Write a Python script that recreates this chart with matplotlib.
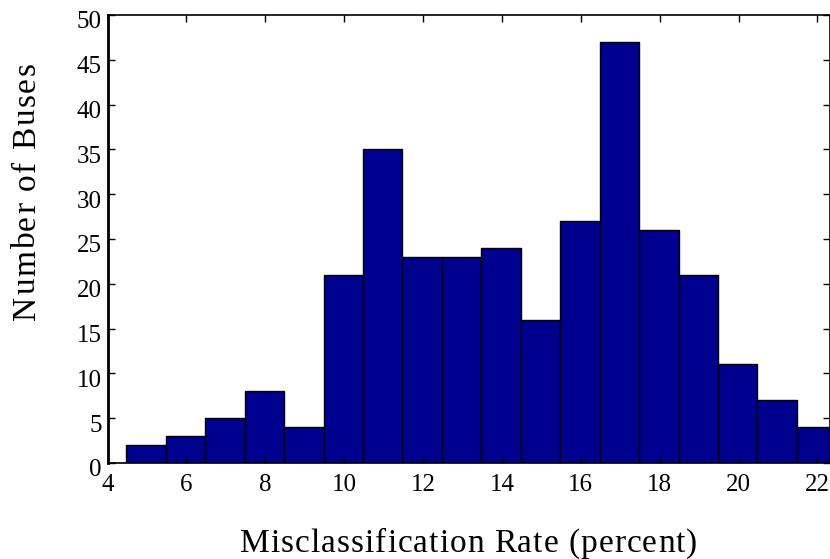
import numpy as np
import matplotlib
matplotlib.use('Agg')
import matplotlib.pyplot as plt
from matplotlib.transforms import ScaledTranslation
from matplotlib.font_manager import FontProperties

# Histogram counts (bin centres in percent)
bin_centers = [3.98, 4.98, 5.98, 6.98, 7.98, 8.98, 9.98, 10.98, 11.98, 12.98,
               13.98, 14.98, 15.98, 16.98, 17.98, 18.98, 19.98, 20.98, 21.98]
counts = [0, 2, 3, 5, 8, 4, 21, 35, 23, 23, 24, 16, 27, 47, 26, 21, 11, 7, 4]
xticks = [4, 6, 8, 10, 12, 14, 16, 18, 20, 22]
yticks = [0, 5, 10, 15, 20, 25, 30, 35, 40, 45, 50]

plt.rcParams['font.family'] = ['Liberation Serif', 'DejaVu Serif']

W, H = 830, 559
fig = plt.figure(figsize=(W/100, H/100), dpi=100)
ax = fig.add_axes([107.5/W, 96/H, (W - 107.5)/W, 448/H])

ax.bar(bin_centers, counts, width=1.0, color='#00008F', edgecolor='black',
       linewidth=1.0)

ax.set_xlim(4, 22.32)
ax.set_ylim(0, 50)
ax.set_xticks(xticks)
ax.set_yticks(yticks)
ax.tick_params(direction='in', length=5, width=1, labelsize=18,
               top=True, right=True, color='black')
ax.tick_params(axis='x', pad=8)
ax.tick_params(axis='y', pad=4)

for side in ['top', 'right', 'bottom']:
    ax.spines[side].set_linewidth(1.2)
ax.spines['left'].set_linewidth(2)

# MATLAB export puts y tick labels slightly below their ticks
offset = ScaledTranslation(0, -5/100, fig.dpi_scale_trans)
for label in ax.get_yticklabels():
    label.set_transform(label.get_transform() + offset)


def spaced_text(s, start, end, base, size, vertical=False):
    # letter-spaced label between two pixel positions along its baseline
    renderer = fig.canvas.get_renderer()
    prop = FontProperties(family='Liberation Serif', size=size)

    def width(t):
        w = renderer.get_text_width_height_descent(t + 'x', prop, ismath=False)[0]
        return w - renderer.get_text_width_height_descent('x', prop, ismath=False)[0]

    natural = width(s)
    gap = (abs(end - start) - natural) / (len(s) - 1)
    for i, ch in enumerate(s):
        d = width(s[:i]) + i * gap
        if vertical:
            fig.text(base/W, 1 - (start - d)/H, ch, fontproperties=prop,
                     rotation=90, rotation_mode='anchor',
                     ha='left', va='baseline')
        else:
            fig.text((start + d)/W, 1 - base/H, ch, fontproperties=prop,
                     ha='left', va='baseline')


spaced_text('Misclassification Rate (percent)', 240, 697, 552, 24)
spaced_text('Number of Buses', 320, 62, 35, 24, vertical=True)

fig.savefig('out.png', dpi=100)
